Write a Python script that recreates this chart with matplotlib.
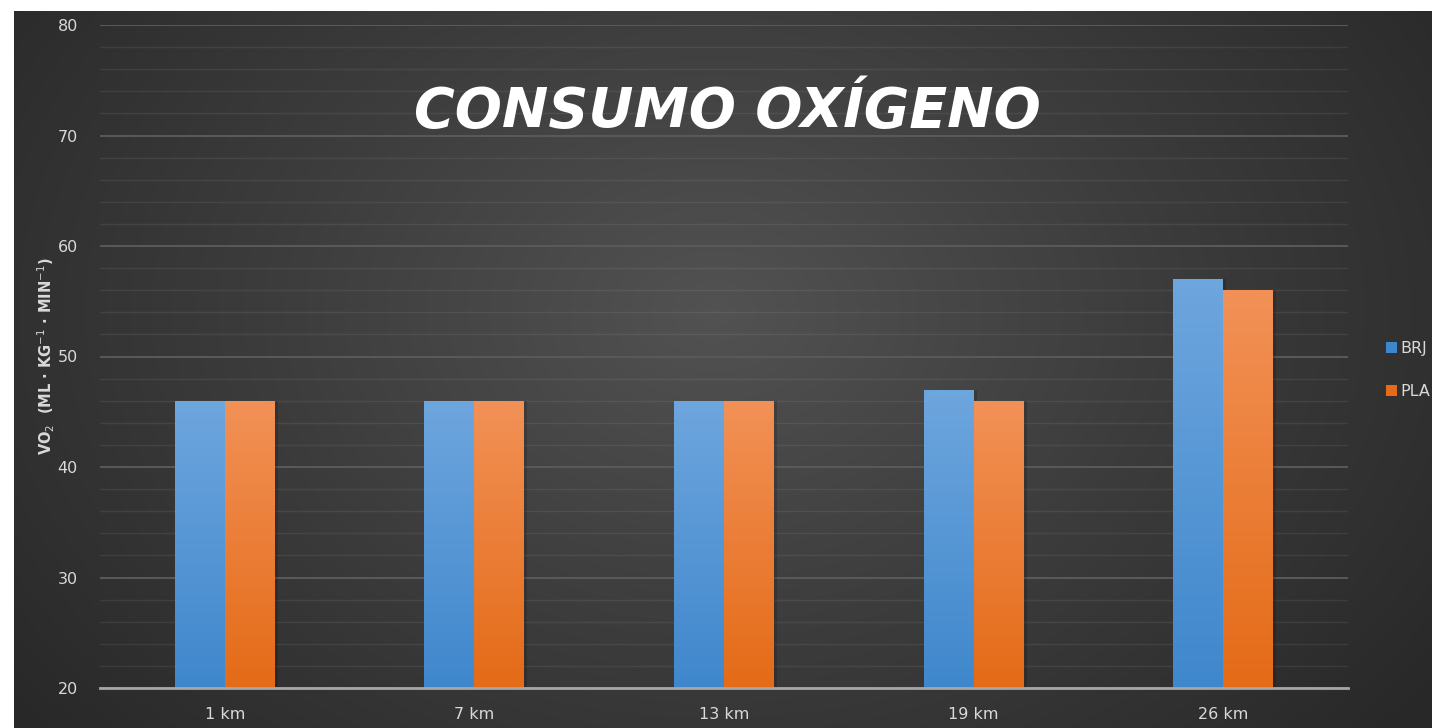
import numpy as np
import matplotlib.pyplot as plt
from matplotlib.colors import LinearSegmentedColormap, to_rgb

# datos
categorias = ["1 km", "7 km", "13 km", "19 km", "26 km"]
brj = [46, 46, 46, 47, 57]
pla = [46, 46, 46, 46, 56]
series = [("BRJ", brj), ("PLA", pla)]
colores = {"BRJ": ("#6ea6de", "#3f87cc"), "PLA": ("#f29157", "#e46b17")}

W, H = 1432, 728
fig = plt.figure(figsize=(W / 100, H / 100), dpi=100, facecolor="white")

# fondo oscuro con degradado radial
fondo = fig.add_axes([14 / W, 0, 1 - 14 / W, 1 - 11 / H])
fondo.set_axis_off()
yy, xx = np.mgrid[0:717, 0:1418]
r = np.sqrt(((xx - 700) / 900.0) ** 2 + ((yy - 300) / 650.0) ** 2)
r = np.clip(r, 0, 1)
cmap_bg = LinearSegmentedColormap.from_list("bg", ["#525252", "#3c3c3c", "#282828"])
fondo.imshow(r, cmap=cmap_bg, aspect="auto", interpolation="bilinear")

ax = fig.add_axes([100 / W, 1 - 688 / H, 1248 / W, (688 - 25) / H])
ax.patch.set_alpha(0)

x = np.arange(len(categorias))
ancho = 0.2


def barra_degradado(ax, barras, top, bottom):
    c1, c2 = np.array(to_rgb(top)), np.array(to_rgb(bottom))
    grad = np.linspace(0, 1, 256)[:, None, None]
    img = c1 * (1 - grad) + c2 * grad
    for b in barras:
        x0, y0 = b.get_x(), b.get_y()
        w, h = b.get_width(), b.get_height()
        im = ax.imshow(img, extent=(x0, x0 + w, y0, y0 + h), origin="upper",
                       aspect="auto", zorder=3, interpolation="bilinear")
        im.set_clip_path(b)
        # sombra suave a la derecha
        ax.bar(x0 + w + 0.006, h, width=0.012, bottom=y0, align="center",
               color="black", alpha=0.15, zorder=2, linewidth=0)


for i, (nombre, vals) in enumerate(series):
    pos = x - ancho / 2 + i * ancho
    barras = ax.bar(pos, np.array(vals) - 20, width=ancho, bottom=20,
                    color=colores[nombre][1], label=nombre, zorder=3, linewidth=0)
    barra_degradado(ax, barras, *colores[nombre])

ax.set_xlim(-0.5, len(categorias) - 0.5)
ax.set_ylim(20, 80)
ax.set_yticks(range(20, 81, 10))
ax.set_yticks(range(20, 81, 2), minor=True)
ax.set_xticks(x)
ax.set_xticklabels(categorias)
ax.tick_params(axis="both", which="both", length=0, colors="#d9d9d9", labelsize=11.5)
ax.tick_params(axis="y", pad=16)
ax.tick_params(axis="x", pad=14)
ax.grid(axis="y", which="major", color="#5a5a5a", linewidth=1.4, zorder=0)
ax.grid(axis="y", which="minor", color="#ffffff", alpha=0.07, linewidth=1.0, zorder=0)
for s in ["top", "right", "left"]:
    ax.spines[s].set_visible(False)
ax.spines["bottom"].set_color("#a6a6a6")
ax.spines["bottom"].set_linewidth(2)
ax.spines["bottom"].set_zorder(4)

ax.set_ylabel(r"VO$_2$  (ML · KG$^{-1}$ · MIN$^{-1}$)",
              color="#d9d9d9", fontsize=10.5, fontweight="bold", labelpad=0)

leg = ax.legend(loc="center left", bbox_to_anchor=(1.025, 0.48), frameon=False,
                fontsize=11.5, handlelength=0.7, handleheight=0.7,
                handletextpad=0.25, labelspacing=1.75, borderaxespad=0)
for t in leg.get_texts():
    t.set_color("#d9d9d9")

fig.text(727 / W, 1 - 112 / H, "CONSUMO OXÍGENO", ha="center", va="center",
         color="white", fontsize=40, fontweight="bold", fontstyle="italic",
         family=["Liberation Sans Narrow", "DejaVu Sans"])

fig.savefig("out.png", dpi=100, facecolor="white")
